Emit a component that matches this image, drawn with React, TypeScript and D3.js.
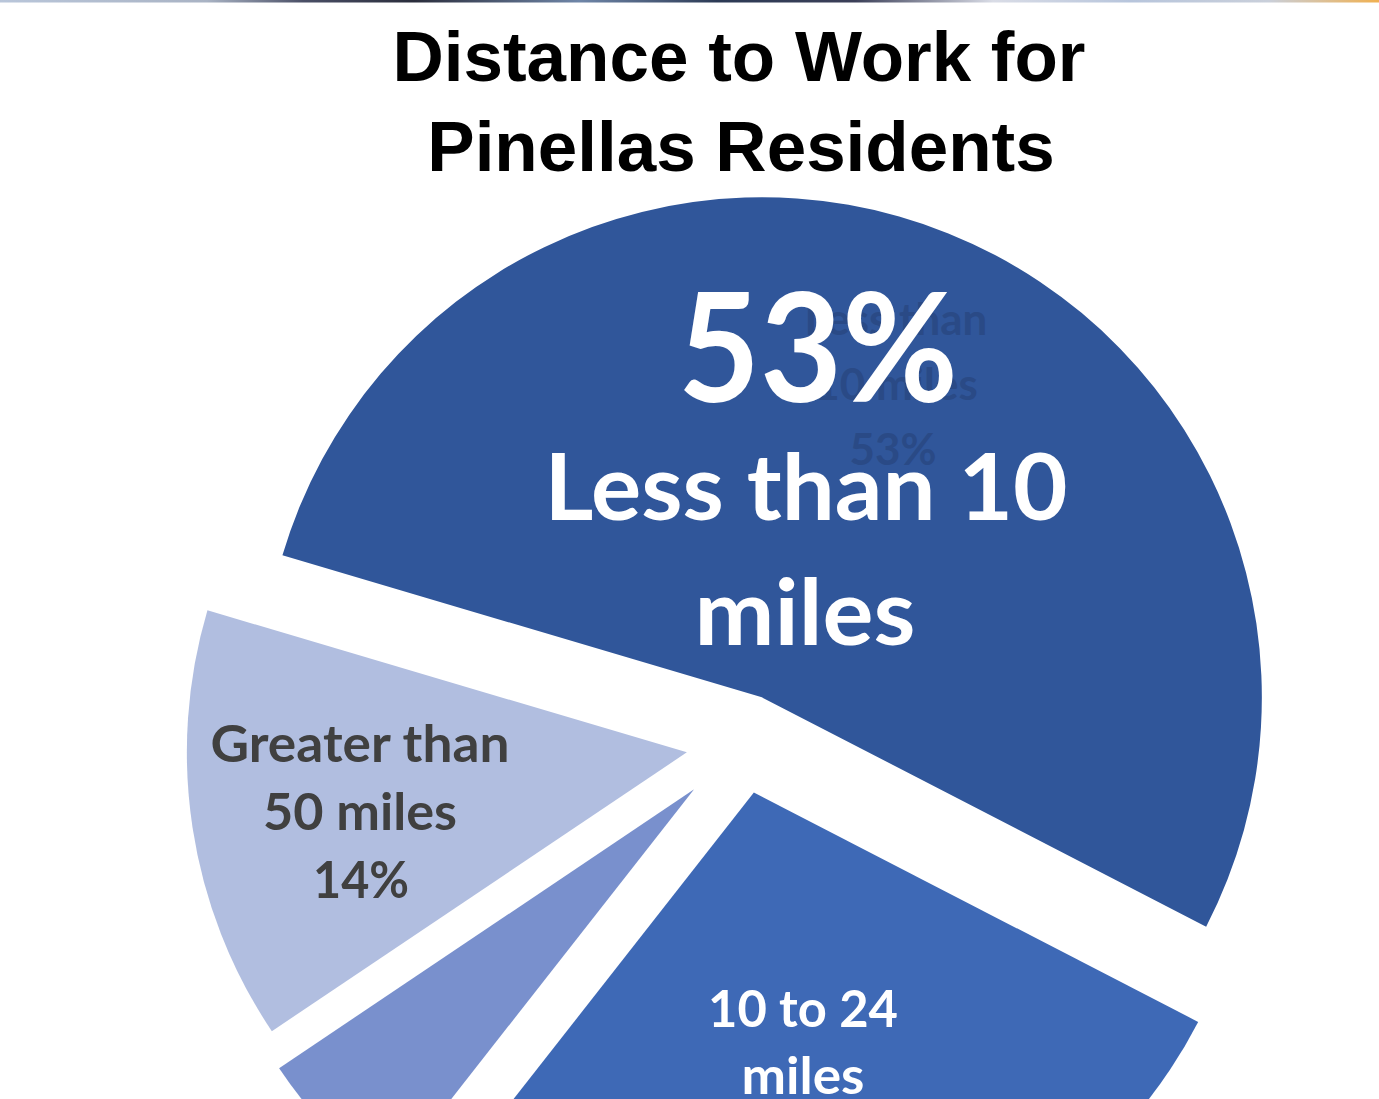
import React from "react";
import * as d3 from "d3";

// ---- data ----
const CATEGORIES = ["Less than 10 miles", "10 to 24 miles", "25 to 50 miles", "Greater than 50 miles"];
const VALUES = [53, 28, 5, 14];
const TITLE_LINES = ["Distance to Work for", "Pinellas Residents"];

// ---- styles / layout ----
const W = 1379;
const H = 1099;
const COLORS = ["#30569a", "#3e69b6", "#7990cd", "#b1bee0"];
const EXPLODE = [50, 50, 67, 57];
const PIE_CX = 743.2;
const PIE_CY = 743.7;
const RADIUS = 500;
const START_DEG = -73.5;
const LABEL_FONT = "Lato, 'Open Sans', sans-serif";

export default function App() {
  const start = (START_DEG * Math.PI) / 180;
  const pie = d3
    .pie<number>()
    .sort(null)
    .value((d) => d)
    .startAngle(start)
    .endAngle(start + 2 * Math.PI);
  const arcs = pie(VALUES);
  const arc = d3.arc<d3.PieArcDatum<number>>().innerRadius(0).outerRadius(RADIUS);

  const offsets = arcs.map((a, i) => {
    const mid = (a.startAngle + a.endAngle) / 2;
    return [PIE_CX + EXPLODE[i] * Math.sin(mid), PIE_CY - EXPLODE[i] * Math.cos(mid)];
  });

  const pct = (i: number) => `${VALUES[i]}%`;

  return (
    <svg
      width={W}
      height={H}
      viewBox={`0 0 ${W} ${H}`}
      style={{ position: "absolute", left: 0, top: 0, background: "#ffffff" }}
    >
      <defs>
        <linearGradient id="strip" x1="0" x2="1" y1="0" y2="0">
          <stop offset="0" stopColor="#b9c6da" />
          <stop offset="0.15" stopColor="#a9b3c4" />
          <stop offset="0.22" stopColor="#4a4f66" />
          <stop offset="0.3" stopColor="#2a2d3c" />
          <stop offset="0.42" stopColor="#6f86a8" />
          <stop offset="0.52" stopColor="#2c3a55" />
          <stop offset="0.62" stopColor="#3b3f58" />
          <stop offset="0.72" stopColor="#d9dce6" />
          <stop offset="0.82" stopColor="#b7c5dc" />
          <stop offset="0.92" stopColor="#c9cfda" />
          <stop offset="1" stopColor="#f0b050" />
        </linearGradient>
      </defs>
      <rect x={0} y={0} width={W} height={2.5} fill="url(#strip)" />

      {/* title */}
      <g fontFamily="'Liberation Sans', Arial, sans-serif" fontWeight="bold" fontSize={71} fill="#000" textAnchor="middle">
        <text x={739} y={81}>{TITLE_LINES[0]}</text>
        <text x={741} y={171}>{TITLE_LINES[1]}</text>
      </g>

      {/* slices */}
      {arcs.map((a, i) => (
        <path
          key={CATEGORIES[i]}
          d={arc(a) || ""}
          fill={COLORS[i]}
          transform={`translate(${offsets[i][0]},${offsets[i][1]})`}
        />
      ))}

      {/* ghost default label of largest slice */}
      <g fontFamily={LABEL_FONT} fontWeight="bold" fontSize={44} fill="#2a4a86" textAnchor="middle">
        <text x={896} y={335}>Less than</text>
        <text x={896} y={400}>10 miles</text>
        <text x={893} y={465}>{pct(0)}</text>
      </g>

      {/* big label */}
      <g fontFamily={LABEL_FONT} fontWeight="bold" fill="#ffffff" textAnchor="middle">
        <text x={818} y={402} fontSize={152} textLength={280} lengthAdjust="spacingAndGlyphs">{pct(0)}</text>
        <text x={806} y={520} fontSize={92} textLength={523} lengthAdjust="spacingAndGlyphs">Less than 10</text>
        <text x={805} y={645} fontSize={92} textLength={221} lengthAdjust="spacingAndGlyphs">miles</text>
      </g>

      {/* greater than 50 */}
      <g fontFamily={LABEL_FONT} fontWeight="bold" fontSize={52} fill="#404040" textAnchor="middle">
        <text x={360} y={762} textLength={299} lengthAdjust="spacingAndGlyphs">Greater than</text>
        <text x={360} y={830} textLength={194} lengthAdjust="spacingAndGlyphs">50 miles</text>
        <text x={361} y={898} textLength={96} lengthAdjust="spacingAndGlyphs">{pct(3)}</text>
      </g>

      {/* 10 to 24 */}
      <g fontFamily={LABEL_FONT} fontWeight="bold" fontSize={52} fill="#ffffff" textAnchor="middle">
        <text x={803} y={1027} textLength={190} lengthAdjust="spacingAndGlyphs">10 to 24</text>
        <text x={803} y={1094} textLength={123} lengthAdjust="spacingAndGlyphs">miles</text>
      </g>
    </svg>
  );
}
